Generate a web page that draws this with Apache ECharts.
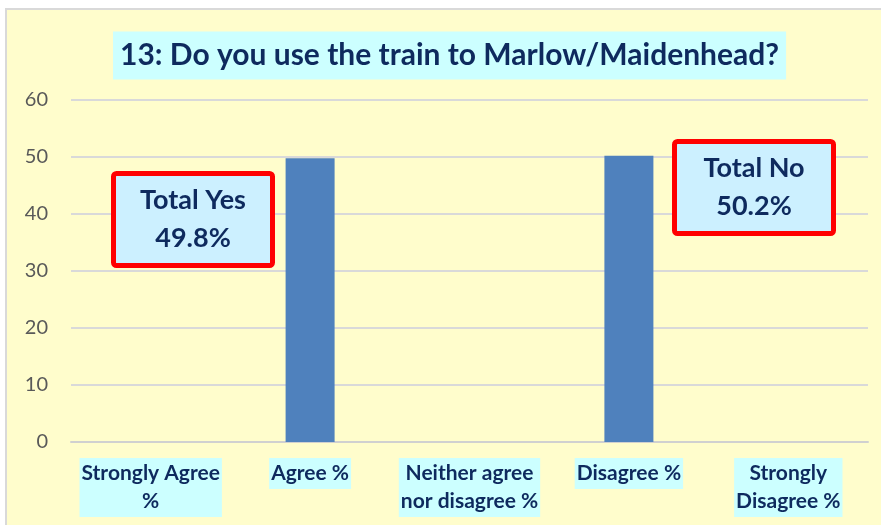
<!DOCTYPE html>
<html lang="en">
<head>
    <meta charset="UTF-8">
    <title>Train use</title>
    <style>
        body { margin: 0; background: #fff; }
        #frame {
            position: absolute; left: 5px; top: 8px;
            width: 874px; height: 515px;
            border-left: 2px solid #d9d9d9;
            border-top: 2px solid #d9d9d9;
            background: #FFFDCC;
        }
        #chart { width: 874px; height: 515px; }
    </style>
</head>
<body>
<div id="frame"><div id="chart"></div></div>

<script src="https://cdn.jsdelivr.net/npm/echarts@6/dist/echarts.min.js"></script>
<script>
    let titleText = "13: Do you use the train to Marlow/Maidenhead?";
    let categories = ["Strongly Agree\n%", "Agree %", "Neither agree\nnor disagree %", "Disagree %", "Strongly\nDisagree %"];
    let values = [0, 49.8, 0, 50.2, 0];
    let yTicks = [0, 10, 20, 30, 40, 50, 60];
    let yesNote = ["Total Yes", "49.8%"];
    let noNote = ["Total No", "50.2%"];

    let navy = "#0E2A5E",
        font = "Lato";

    // red-framed note box, one text element per line
    function noteBox(x, y, lines) {
        let children = [
            {
                type: 'rect',
                z: 100,
                shape: { x: x, y: y, width: 159, height: 92, r: 3 },
                style: { fill: '#CCF0FF', stroke: '#FF0000', lineWidth: 5 }
            }
        ];
        lines.forEach((line, i) => {
            children.push({
                type: 'text',
                z: 101,
                x: x + 79.5,
                y: y + 27 + i * 38,
                style: {
                    text: line,
                    fill: navy,
                    font: "bold 27px " + font,
                    align: 'center',
                    verticalAlign: 'middle'
                }
            });
        });
        return { type: 'group', children: children };
    }

    let myChart = echarts.init(document.getElementById("chart"));
    let option = {
        backgroundColor: 'transparent',
        title: {
            text: titleText,
            left: 106,
            top: 22,
            backgroundColor: '#CCFFFF',
            padding: [9, 7],
            textStyle: {
                color: navy,
                fontFamily: font,
                fontWeight: 'bold',
                fontSize: 30,
                lineHeight: 29
            }
        },
        grid: { left: 64, right: 13, top: 90, bottom: 83 },
        xAxis: {
            type: 'category',
            data: categories,
            axisLine: { lineStyle: { color: '#D0D0D0', width: 2 } },
            axisTick: { show: false },
            axisLabel: {
                interval: 0,
                margin: 16,
                color: navy,
                fontFamily: font,
                fontWeight: 'bold',
                fontSize: 21,
                lineHeight: 28,
                backgroundColor: '#CCFFFF',
                padding: [1, 2, 2, 2],
                verticalAlign: 'top'
            }
        },
        yAxis: {
            type: 'value',
            min: yTicks[0],
            max: yTicks[yTicks.length - 1],
            interval: 10,
            axisLine: { show: false },
            axisTick: { show: false },
            splitLine: { lineStyle: { color: '#D9D9D9', width: 2 } },
            axisLabel: {
                margin: 23,
                color: '#595959',
                fontFamily: font,
                fontSize: 20
            }
        },
        series: [
            {
                type: 'bar',
                data: values,
                barWidth: 49,
                itemStyle: { color: '#4F81BD' }
            }
        ],
        graphic: [
            noteBox(106.5, 163.5, yesNote),
            noteBox(667.5, 131.5, noNote)
        ]
    };
    myChart.setOption(option);
</script>
</body>
</html>
